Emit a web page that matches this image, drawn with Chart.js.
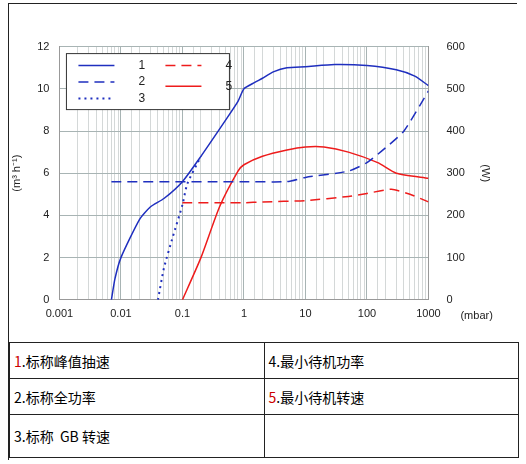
<!DOCTYPE html>
<html lang="zh">
<head>
<meta charset="UTF-8" />
<script src="https://cdn.jsdelivr.net/npm/chart.js@4.4.0/dist/chart.umd.min.js"></script>
<style>
  body { margin: 0; background: #fff; font-family: "Liberation Sans", Arial, sans-serif; }
  #frame { position: absolute; left: 8px; top: 3px; width: 508px; height: 456px; border: 1px solid #222; border-right: none; border-bottom: none; }
  #wrap { position: absolute; left: 0; top: 30px; width: 526px; height: 299px; }
  table { position: absolute; left: 9px; top: 342px; width: 510px; border-collapse: collapse; font-family: "Noto Sans CJK SC", sans-serif; font-size: 14px; }
  td { border: 1px solid #222; height: 35px; padding: 0 0 0 4px; width: 50%; }
  .r { color: #c00; }
</style>
</head>
<body>
<div id="frame"></div>
<div id="wrap"><canvas id="c"></canvas></div>
<table>
  <tr><td><span class="r">1</span>.标称峰值抽速</td><td>4.最小待机功率</td></tr>
  <tr><td>2.标称全功率</td><td><span class="r">5</span>.最小待机转速</td></tr>
  <tr><td style="height:42px">3.标称&nbsp;&nbsp;GB 转速</td><td></td></tr>
</table>
<script>
const s1x = [0.007, 0.008, 0.01, 0.02, 0.03, 0.05, 0.1, 0.2, 0.5, 0.8, 1, 1.5, 2, 3, 5, 10, 30, 100, 300, 600, 1000];
const s1y = [0, 1, 2, 3.8, 4.4, 4.8, 5.6, 6.8, 8.5, 9.4, 10, 10.3, 10.5, 10.8, 11, 11.05, 11.15, 11.1, 10.9, 10.6, 10.15];
const s2x = [0.007, 1, 5, 10, 50, 100, 200, 400, 1000];
const s2y = [5.6, 5.6, 5.6, 5.8, 6.1, 6.5, 7.2, 8, 9.9];
const s3x = [0.04, 0.05, 0.07, 0.1, 0.12, 0.2];
const s3y = [0, 1.5, 3, 4.5, 5.5, 6.8];
const s4x = [0.1, 1, 2, 10, 50, 100, 250, 500, 1000];
const s4y = [230, 230, 232, 235, 245, 252, 262, 250, 232];
const s5x = [0.1, 0.2, 0.4, 0.8, 1, 2, 5, 10, 20, 50, 150, 300, 1000];
const s5y = [0, 100, 220, 305, 320, 340, 355, 362, 362, 350, 325, 300, 288];

const BLUE = "#1f2fbf", RED = "#ee1c1c";
const pts = (xs, ys) => xs.map((x, i) => ({ x, y: ys[i] }));
const legendItems = [
  ["1", BLUE, []], ["2", BLUE, [10, 6]], ["3", BLUE, [2, 4]], ["4", RED, [10, 6]], ["5", RED, []]
];

const extras = {
  id: "extras",
  afterDraw(chart) {
    const c = chart.ctx, a = chart.chartArea;
    c.save();
    c.font = "11px 'Liberation Sans', Arial";
    c.fillStyle = "#222";
    c.textBaseline = "middle";
    c.fillText("(mbar)", a.right + 32, a.bottom + 16);
    // legend box
    const bx = a.left + 7, by = a.top + 7, bw = 163, bh = 56;
    c.fillStyle = "#fff";
    c.fillRect(bx, by, bw, bh);
    c.strokeStyle = "#333"; c.lineWidth = 1;
    c.strokeRect(bx, by, bw, bh);
    const pos = [[0, 0], [0, 1], [0, 2], [1, 0], [1, 1.25]];
    c.font = "12px 'Liberation Sans', Arial";
    legendItems.forEach((it, i) => {
      const [col, row] = pos[i];
      const lx = bx + 12 + col * 87, ly = by + 12 + row * 16.5;
      c.strokeStyle = it[1]; c.lineWidth = it[2][0] === 2 ? 2 : 1.5;
      c.setLineDash(it[2]);
      c.beginPath(); c.moveTo(lx, ly); c.lineTo(lx + 36, ly); c.stroke();
      c.setLineDash([]);
      c.fillStyle = "#222";
      c.fillText(it[0], lx + 60, ly);
    });
    c.restore();
  }
};

new Chart(document.getElementById("c"), {
  type: "line",
  data: {
    datasets: [
      { data: pts(s1x, s1y), borderColor: BLUE, borderWidth: 1.5, yAxisID: "y" },
      { data: pts(s2x, s2y), borderColor: BLUE, borderWidth: 1.5, borderDash: [10, 6], yAxisID: "y" },
      { data: pts(s3x, s3y), borderColor: BLUE, borderWidth: 2, borderDash: [2, 4], yAxisID: "y" },
      { data: pts(s4x, s4y), borderColor: RED, borderWidth: 1.5, borderDash: [10, 6], yAxisID: "y2" },
      { data: pts(s5x, s5y), borderColor: RED, borderWidth: 1.5, yAxisID: "y2" }
    ]
  },
  options: {
    responsive: true, maintainAspectRatio: false, animation: false,
    elements: { point: { radius: 0 }, line: { tension: 0.2 } },
    layout: { padding: { left: 6, right: 30, top: 10, bottom: 0 } },
    plugins: { legend: { display: false }, tooltip: { enabled: false } },
    scales: {
      x: {
        type: "logarithmic", min: 0.001, max: 1000,
        border: { color: "#999" },
        grid: { color: ctx => Math.abs(Math.log10(ctx.tick.value) % 1) < 1e-6 ? "#a8b4b4" : "#d4d8d8", tickLength: 0 },
        ticks: {
          autoSkip: false, maxRotation: 0, color: "#222", font: { size: 11 }, padding: 8,
          callback: v => { const l = Math.log10(v); return Math.abs(l - Math.round(l)) < 1e-6 ? String(v) : ""; }
        }
      },
      y: {
        min: 0, max: 12, ticks: { stepSize: 2, color: "#222", font: { size: 11 }, padding: 10 },
        border: { color: "#999" },
        grid: { color: "#a8b4b4", tickLength: 0 },
        title: { display: true, text: "(m³ h⁻¹)", color: "#222", font: { size: 11 } }
      },
      y2: {
        position: "right", min: 0, max: 600,
        ticks: { stepSize: 100, color: "#222", font: { size: 11 }, padding: 10 },
        border: { color: "#999" },
        grid: { display: false },
        title: { display: true, text: "(W)", color: "#222", font: { size: 11 } }
      }
    }
  },
  plugins: [extras]
});
</script>
</body>
</html>
